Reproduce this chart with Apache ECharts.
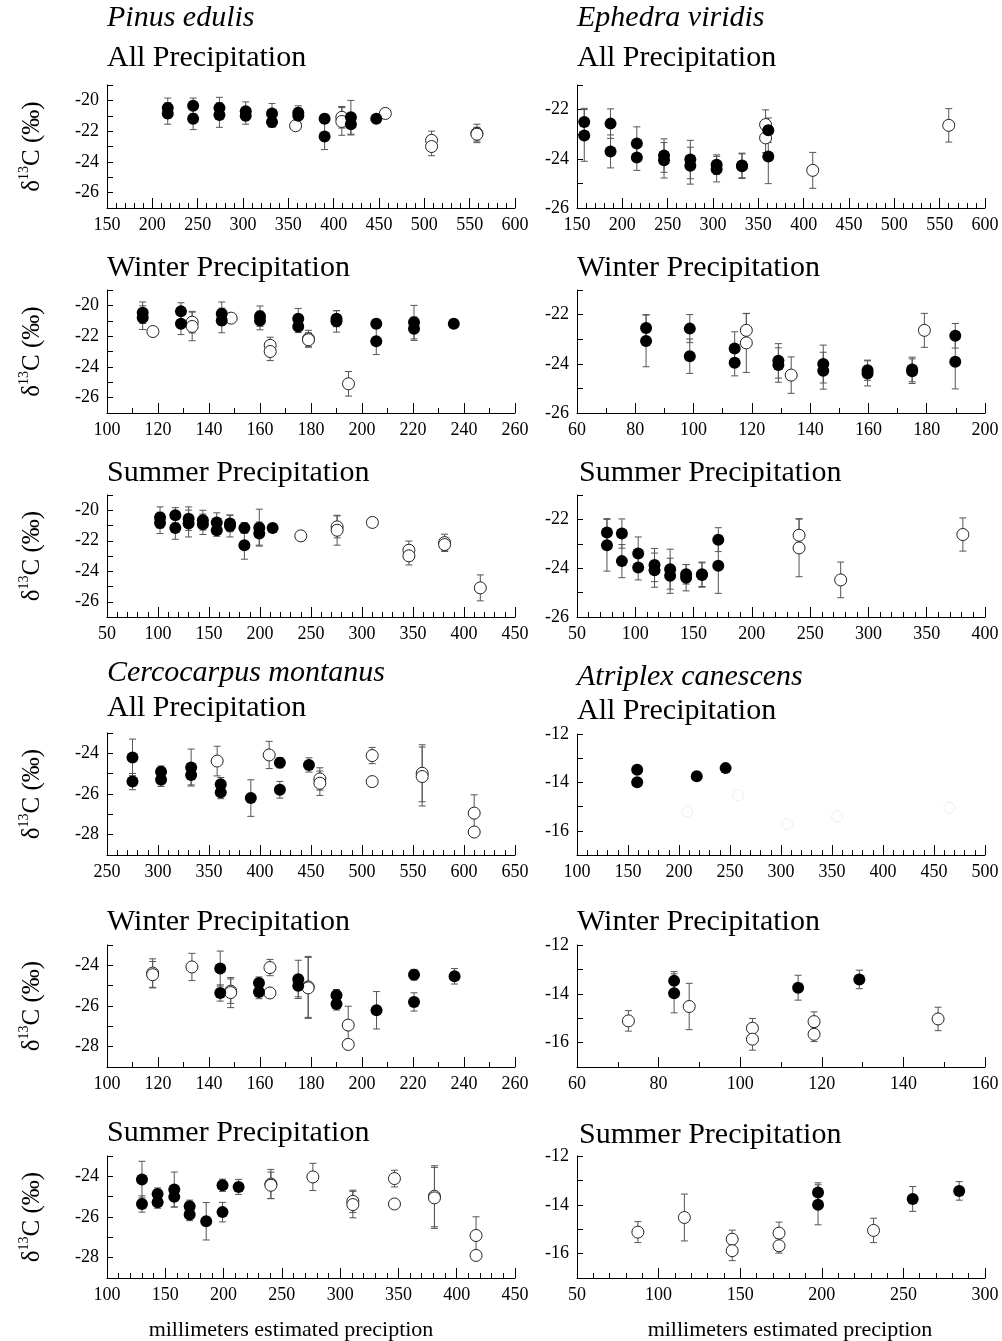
<!DOCTYPE html>
<html>
<head>
<meta charset="utf-8">
<script src="https://cdn.jsdelivr.net/npm/echarts@6/dist/echarts.min.js"></script>
<style>
  html, body { margin: 0; background: #fff; }
  #chart { width: 1002px; height: 1341px; }
</style>
</head>
<body>
<div id="chart"></div>
<script>
// each point: [millimeters precipitation, d13C (per mil), error]
const pinusAllFilled = [
  [217, -20.5, 0.65], [217, -20.85, 0.7],
  [245, -20.35, 0.5], [245, -21.2, 0.7],
  [274, -20.5, 0.7], [274, -20.95, 0.8],
  [303, -20.7, 0.6], [303, -21.0, 0.55],
  [332, -20.85, 0.65], [332, -21.4, 0.35],
  [361, -20.8, 0.45], [361, -21.0, 0.5],
  [390, -21.2, 0.3], [390, -22.35, 0.85],
  [419, -21.1, 1.1], [419, -21.55, 0.7],
  [447, -21.2, 0.15]
];
const pinusAllOpen = [
  [358, -21.65, 0.2], [409, -21.1, 0.7], [409, -21.37, 0.9], [457, -20.85, 0.1],
  [508, -22.6, 0.6], [508, -23.0, 0.6], [558, -22.15, 0.6], [558, -22.2, 0.45]
];

const ephedraAllFilled = [
  [158, -22.5, 0.55], [158, -23.05, 1.05],
  [187, -22.57, 0.6], [187, -23.7, 0.67],
  [216, -23.38, 0.68], [216, -23.95, 0.52],
  [246, -23.87, 0.68], [246, -24.06, 0.72],
  [275, -24.03, 0.78], [275, -24.28, 0.75],
  [304, -24.24, 0.4], [304, -24.42, 0.52],
  [332, -24.27, 0.5], [332, -24.3, 0.5],
  [361, -22.84, 0.5], [361, -23.91, 1.1]
];
const ephedraAllOpen = [
  [358, -22.61, 0.6], [358, -23.15, 0.6], [410, -24.47, 0.73], [560, -22.64, 0.68]
];

const pinusWinterFilled = [
  [114, -20.48, 0.7], [114, -20.8, 0.77],
  [129, -20.39, 0.56], [129, -21.2, 0.7],
  [145, -20.54, 0.76], [145, -20.98, 0.8],
  [160, -20.7, 0.66], [160, -20.98, 0.61],
  [175, -20.87, 0.67], [175, -21.37, 0.4],
  [190, -20.87, 0.52], [190, -21.04, 0.7],
  [205.6, -21.2, 0.3], [205.6, -22.33, 0.87],
  [220.4, -21.09, 1.09], [220.4, -21.52, 0.76],
  [236, -21.2, 0.15]
];
const pinusWinterOpen = [
  [118, -21.7, 0.2], [133.4, -21.09, 0.7], [133.4, -21.37, 0.93], [148.7, -20.83, 0.1],
  [164, -22.6, 0.53], [164, -23.0, 0.59], [179, -22.17, 0.55], [179, -22.24, 0.45],
  [194.7, -25.1, 0.8]
];

const ephedraWinterFilled = [
  [83.7, -22.54, 0.54], [83.7, -23.07, 1.05],
  [98.7, -22.57, 0.57], [98.7, -23.69, 0.7],
  [114.1, -23.38, 0.68], [114.1, -23.96, 0.53],
  [129.1, -23.88, 0.7], [129.1, -24.05, 0.7],
  [144.5, -24.01, 0.77], [144.5, -24.28, 0.75],
  [159.7, -24.26, 0.41], [159.7, -24.39, 0.51],
  [175, -24.23, 0.5], [175, -24.3, 0.5],
  [189.8, -22.86, 0.5], [189.8, -23.92, 1.1]
];
const ephedraWinterOpen = [
  [118.1, -22.64, 0.68], [118.1, -23.15, 1.2], [133.5, -24.46, 0.74], [179.2, -22.64, 0.69]
];

const pinusSummerFilled = [
  [102, -20.48, 0.7], [102, -20.83, 0.7],
  [117, -20.33, 0.5], [117, -21.16, 0.74],
  [130, -20.55, 0.77], [130, -20.87, 0.88],
  [144, -20.65, 0.65], [144, -20.92, 0.67],
  [157.6, -20.8, 0.63], [157.6, -21.31, 0.4],
  [170.6, -20.87, 0.54], [170.6, -21.03, 0.72],
  [184.7, -21.16, 0.35], [184.7, -22.29, 0.92],
  [199.3, -21.14, 1.21], [199.3, -21.53, 0.76],
  [212.4, -21.16, 0.15]
];
const pinusSummerOpen = [
  [240, -21.68, 0.2], [275.6, -21.09, 0.72], [275.6, -21.31, 0.98], [310.2, -20.8, 0.1],
  [346, -22.62, 0.6], [346, -22.99, 0.6], [381, -22.12, 0.55], [381, -22.25, 0.45],
  [416, -25.09, 0.85]
];

const ephedraSummerFilled = [
  [75.7, -22.54, 0.57], [75.7, -23.06, 1.06],
  [88.5, -22.58, 0.6], [88.5, -23.71, 0.68],
  [102.5, -23.4, 0.68], [102.5, -23.97, 0.51],
  [116.5, -23.87, 0.68], [116.5, -24.08, 0.7],
  [129.9, -24.04, 0.82], [129.9, -24.31, 0.72],
  [143.6, -24.25, 0.4], [143.6, -24.39, 0.54],
  [157.2, -24.25, 0.5], [157.2, -24.28, 0.5],
  [171.2, -22.83, 0.49], [171.2, -23.9, 1.13]
];
const ephedraSummerOpen = [
  [240.5, -22.65, 0.68], [240.5, -23.17, 1.18], [276.2, -24.48, 0.73], [381, -22.62, 0.68]
];

const cercoAllFilled = [
  [275, -24.2, 0.9], [275, -25.39, 0.4],
  [303, -24.9, 0.28], [303, -25.3, 0.33],
  [332.5, -24.7, 0.91], [332.5, -25.06, 0.49],
  [361.5, -25.52, 0.33], [361.5, -25.92, 0.31],
  [391, -26.2, 0.9],
  [419.5, -24.46, 0.25], [419.5, -25.79, 0.41],
  [448, -24.57, 0.35]
];
const cercoAllOpen = [
  [358, -24.38, 0.73], [409, -24.08, 0.67], [458.7, -25.26, 0.55], [458.7, -25.47, 0.6],
  [510, -24.11, 0.4], [510, -25.39, 0], [559, -24.98, 1.4], [559, -25.14, 1.45],
  [610, -26.94, 0.9], [610, -27.87, 0]
];

const atriplexAllFilled = [
  [159, -13.48, 0], [159, -13.99, 0], [217.4, -13.75, 0], [245.7, -13.41, 0]
];
const atriplexAllFaint = [
  [208, -15.2, 0], [258, -14.54, 0], [306, -15.73, 0], [355, -15.41, 0], [465, -15.04, 0]
];

const cercoWinterFilled = [
  [144.4, -24.16, 0.86], [144.4, -25.36, 0.4],
  [159.6, -24.87, 0.3], [159.6, -25.31, 0.33],
  [175, -24.69, 0.94], [175, -25.01, 0.54],
  [190, -25.47, 0.28], [190, -25.9, 0.3],
  [205.7, -26.21, 0.92],
  [220.4, -24.46, 0.26], [220.4, -25.8, 0.45],
  [236.3, -24.54, 0.38]
];
const cercoWinterOpen = [
  [117.9, -24.38, 0.7], [117.9, -24.46, 0.65], [133.3, -24.08, 0.67],
  [148.5, -25.27, 0.6], [148.5, -25.34, 0.74], [163.9, -24.11, 0.4], [163.9, -25.36, 0],
  [178.9, -25.06, 1.5], [178.9, -25.11, 1.5], [194.6, -26.94, 0.93], [194.6, -27.89, 0]
];

const atriplexWinterFilled = [
  [83.8, -13.47, 0.38], [83.8, -13.98, 0.8], [114.2, -13.75, 0.51], [129.2, -13.41, 0.38]
];
const atriplexWinterOpen = [
  [72.6, -15.11, 0.42], [87.5, -14.52, 0.95], [103, -15.41, 0.4], [103, -15.86, 0.45],
  [118.1, -15.14, 0.4], [118.1, -15.66, 0.3], [148.5, -15.03, 0.48]
];

const cercoSummerFilled = [
  [130, -24.16, 0.9], [130, -25.36, 0.4],
  [143.4, -24.87, 0.3], [143.4, -25.27, 0.3],
  [157.7, -24.65, 0.86], [157.7, -25.01, 0.5],
  [170.9, -25.47, 0.3], [170.9, -25.88, 0.3],
  [185.1, -26.21, 0.92],
  [199.1, -24.44, 0.3], [199.1, -25.76, 0.48],
  [212.9, -24.52, 0.37]
];
const cercoSummerOpen = [
  [240.6, -24.38, 0.72], [240.6, -24.44, 0.65], [276.6, -24.03, 0.67],
  [310.9, -25.23, 0.55], [310.9, -25.39, 0.65], [346.6, -24.11, 0.41], [346.6, -25.36, 0],
  [380.9, -24.98, 1.5], [380.9, -25.06, 1.5], [416.6, -26.91, 0.92], [416.6, -27.89, 0]
];

const atriplexSummerFilled = [
  [197.7, -13.5, 0.4], [197.7, -14.0, 0.82], [255.7, -13.76, 0.51], [284.2, -13.43, 0.38]
];
const atriplexSummerOpen = [
  [87.3, -15.12, 0.43], [115.8, -14.52, 0.96], [145.1, -15.41, 0.37], [145.1, -15.88, 0.41],
  [173.8, -15.16, 0.45], [173.8, -15.68, 0.3], [231.7, -15.05, 0.5]
];

const SERIF = "'Liberation Serif', 'DejaVu Serif', serif";
const LEFT = 107, RIGHT = 577, W = 408;

// layout + axis ranges for each of the 12 panels
const panels = [
  { left: LEFT, top: 85, h: 123, x: [150, 600, 50, 5], y: [-27, -19], filled: pinusAllFilled, open: pinusAllOpen, yName: true },
  { left: RIGHT, top: 85, h: 123, x: [150, 600, 50, 5], y: [-26, -21], filled: ephedraAllFilled, open: ephedraAllOpen },
  { left: LEFT, top: 290, h: 123, x: [100, 260, 20, 2], y: [-27, -19], filled: pinusWinterFilled, open: pinusWinterOpen, yName: true },
  { left: RIGHT, top: 290, h: 123, x: [60, 200, 20, 2], y: [-26, -21], filled: ephedraWinterFilled, open: ephedraWinterOpen },
  { left: LEFT, top: 495, h: 122, x: [50, 450, 50, 5], y: [-27, -19], filled: pinusSummerFilled, open: pinusSummerOpen, yName: true },
  { left: RIGHT, top: 495, h: 122, x: [50, 400, 50, 5], y: [-26, -21], filled: ephedraSummerFilled, open: ephedraSummerOpen },
  { left: LEFT, top: 733, h: 122, x: [250, 650, 50, 5], y: [-29, -23], filled: cercoAllFilled, open: cercoAllOpen, yName: true },
  { left: RIGHT, top: 734, h: 121, x: [100, 500, 50, 5], y: [-17, -12], filled: atriplexAllFilled, open: [], faint: atriplexAllFaint },
  { left: LEFT, top: 945, h: 122, x: [100, 260, 20, 2], y: [-29, -23], filled: cercoWinterFilled, open: cercoWinterOpen, yName: true },
  { left: RIGHT, top: 945, h: 122, x: [60, 160, 20, 2], y: [-17, -12], filled: atriplexWinterFilled, open: atriplexWinterOpen },
  { left: LEFT, top: 1156, h: 122, x: [100, 450, 50, 5], y: [-29, -23], filled: cercoSummerFilled, open: cercoSummerOpen, yName: true },
  { left: RIGHT, top: 1156, h: 122, x: [50, 300, 50, 5], y: [-17, -12], filled: atriplexSummerFilled, open: atriplexSummerOpen }
];

function errorBars(params, api) {
  const x = api.value(0), y = api.value(1), e = api.value(2);
  if (!e) return null;
  const hi = api.coord([x, y + e]);
  const lo = api.coord([x, y - e]);
  const cap = 3.5;
  const style = { stroke: '#555', lineWidth: 1 };
  return {
    type: 'group',
    children: [
      { type: 'line', shape: { x1: hi[0], y1: hi[1], x2: lo[0], y2: lo[1] }, style },
      { type: 'line', shape: { x1: hi[0] - cap, y1: hi[1], x2: hi[0] + cap, y2: hi[1] }, style },
      { type: 'line', shape: { x1: lo[0] - cap, y1: lo[1], x2: lo[0] + cap, y2: lo[1] }, style }
    ]
  };
}

const grid = [], xAxis = [], yAxis = [], series = [];
panels.forEach((p, i) => {
  grid.push({ left: p.left, top: p.top, width: W, height: p.h });
  xAxis.push({
    type: 'value', gridIndex: i, min: p.x[0], max: p.x[1], interval: p.x[2],
    axisLine: { onZero: false, lineStyle: { color: '#000', width: 1 } },
    axisTick: { inside: true, length: 10, lineStyle: { color: '#000' } },
    minorTick: { show: true, splitNumber: p.x[3], length: 5, lineStyle: { color: '#000' } },
    axisLabel: { color: '#000', fontFamily: SERIF, fontSize: 18, margin: 8 },
    splitLine: { show: false }, minorSplitLine: { show: false }
  });
  yAxis.push({
    type: 'value', gridIndex: i, min: p.y[0], max: p.y[1], interval: 1,
    axisLine: { onZero: false, lineStyle: { color: '#000', width: 1 } },
    axisTick: { inside: true, length: 6, lineStyle: { color: '#000' } },
    axisLabel: {
      color: '#000', fontFamily: SERIF, fontSize: 18, margin: 8,
      formatter: v => (v % 2 === 0 ? String(v) : '')
    },
    splitLine: { show: false },
    name: p.yName ? '{d|δ}{s|13}{d|C (‰)}' : '',
    nameLocation: 'middle', nameRotate: 90, nameGap: 60,
    nameTextStyle: {
      color: '#000', fontFamily: SERIF, fontSize: 25,
      rich: {
        d: { fontFamily: SERIF, fontSize: 25, color: '#000', lineHeight: 30 },
        s: { fontFamily: SERIF, fontSize: 14, color: '#000', verticalAlign: 'top', lineHeight: 30, padding: [0, 0, 10, 0] }
      }
    }
  });
  series.push({
    type: 'custom', xAxisIndex: i, yAxisIndex: i, renderItem: errorBars,
    data: p.filled.concat(p.open), encode: { x: 0, y: 1 }, z: 1, silent: true, clip: false
  });
  series.push({
    type: 'scatter', xAxisIndex: i, yAxisIndex: i, data: p.open, symbol: 'circle', symbolSize: 12,
    itemStyle: { color: '#fff', borderColor: '#222', borderWidth: 1, opacity: 1 }, z: 2, silent: true
  });
  series.push({
    type: 'scatter', xAxisIndex: i, yAxisIndex: i, data: p.filled, symbol: 'circle', symbolSize: 12,
    itemStyle: { color: '#000', opacity: 1 }, z: 3, silent: true
  });
  if (p.faint) {
    series.push({
      type: 'scatter', xAxisIndex: i, yAxisIndex: i, data: p.faint, symbol: 'circle', symbolSize: 11,
      itemStyle: { color: 'transparent', borderColor: '#eeeeee', borderWidth: 1, opacity: 1 }, z: 2, silent: true
    });
  }
});

const heading = { fontFamily: SERIF, fontSize: 30, fontWeight: 'normal', color: '#000' };
const species = Object.assign({}, heading, { fontStyle: 'italic' });
const titles = [
  ['Pinus edulis', LEFT, 3, species], ['All Precipitation', LEFT, 43, heading],
  ['Winter Precipitation', LEFT, 253, heading], ['Summer Precipitation', LEFT, 458, heading],
  ['Cercocarpus montanus', LEFT, 658, species], ['All Precipitation', LEFT, 693, heading],
  ['Winter Precipitation', LEFT, 907, heading], ['Summer Precipitation', LEFT, 1118, heading],
  ['Ephedra viridis', RIGHT, 3, species], ['All Precipitation', RIGHT, 43, heading],
  ['Winter Precipitation', RIGHT, 253, heading], ['Summer Precipitation', RIGHT + 2, 458, heading],
  ['Atriplex canescens', RIGHT, 662, species], ['All Precipitation', RIGHT, 696, heading],
  ['Winter Precipitation', RIGHT, 907, heading], ['Summer Precipitation', RIGHT + 2, 1120, heading]
];

const bottomNames = [[291, 1330], [790, 1330]].map(pos => ({
  type: 'text', x: pos[0], y: pos[1],
  style: {
    text: 'millimeters estimated preciption', fill: '#000',
    fontFamily: SERIF, fontSize: 22, align: 'center', verticalAlign: 'middle'
  }
}));

const chart = echarts.init(document.getElementById('chart'), null, { renderer: 'canvas' });
chart.setOption({
  animation: false,
  backgroundColor: '#fff',
  title: titles.map(t => ({ text: t[0], left: t[1], top: t[2], padding: 0, textStyle: t[3] })),
  graphic: bottomNames,
  grid, xAxis, yAxis, series
});
</script>
</body>
</html>
